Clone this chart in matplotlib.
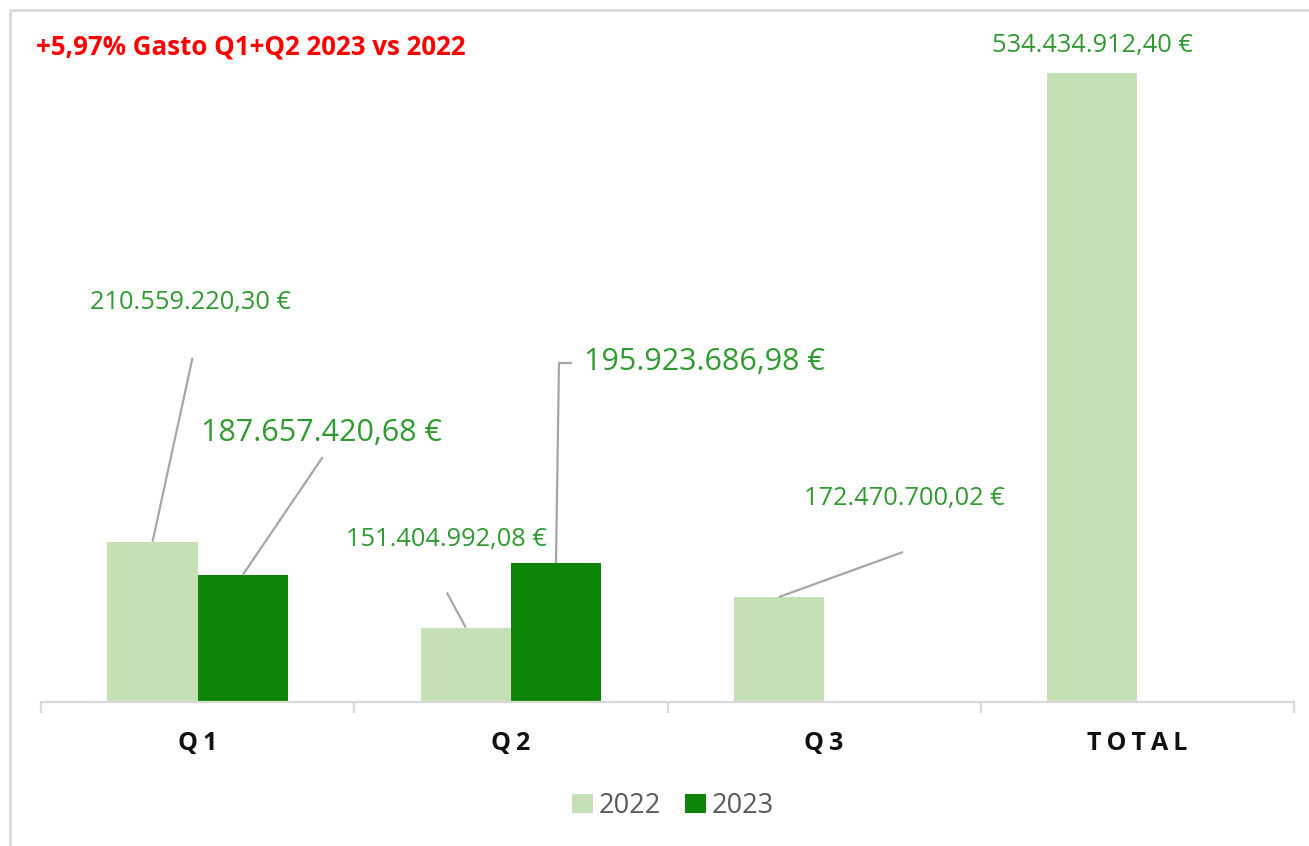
import matplotlib
matplotlib.use("Agg")
import matplotlib.pyplot as plt
from matplotlib.patches import Rectangle
import numpy as np

# ---------------- data ----------------
categories = ["Q1", "Q2", "Q3", "TOTAL"]
cat_labels = ["Q\u20091", "Q\u20092", "Q\u20093", "T\u2009O\u2009T\u2009A\u2009L"]
series_names = ["2022", "2023"]
values_2022 = [210559220.30, 151404992.08, 172470700.02, 534434912.40]
values_2023 = [187657420.68, 195923686.98, np.nan, np.nan]
labels_2022 = ["210.559.220,30 €", "151.404.992,08 €", "172.470.700,02 €", "534.434.912,40 €"]
labels_2023 = ["187.657.420,68 €", "195.923.686,98 €", None, None]
title_text = "+5,97% Gasto Q1+Q2 2023 vs 2022"

# ---------------- style ----------------
C22 = "#c5e0b4"
C23 = "#0f8508"
LBL = "#2f9a2f"
LEAD = "#a6a6a6"
AXC = "#d9d9d9"
FONT = ["Open Sans", "DejaVu Sans"]
plt.rcParams["font.family"] = FONT

W, H = 1309, 846
fig = plt.figure(figsize=(W / 100, H / 100), dpi=100)
ax = fig.add_axes([41 / W, (H - 702) / H, 1253 / W, 652 / H])

x = np.arange(len(categories))
bw = 0.288
b22 = ax.bar(x - bw / 2, values_2022, bw, color=C22, label=series_names[0], zorder=2)
b23 = ax.bar(x + bw / 2, values_2023, bw, color=C23, label=series_names[1], zorder=2)

ax.set_xlim(-0.5, 3.5)
ax.set_ylim(100e6, 550e6)

for s in ["top", "right", "left"]:
    ax.spines[s].set_visible(False)
ax.spines["bottom"].set_color(AXC)
ax.spines["bottom"].set_linewidth(1.6)
ax.set_yticks([])
ax.set_xticks(x)
ax.set_xticklabels(cat_labels, fontsize=18, fontweight="bold", color="#111111")
ax.tick_params(axis="x", which="major", length=0, pad=21)
ax.set_xticks(np.arange(-0.5, 4.0, 1.0), minor=True)
ax.tick_params(axis="x", which="minor", length=8, width=1.6, color=AXC, direction="out")

# label layout: text offset and leader points in pixels from bar top center
layout_22 = [
    dict(t=(38, 239), lead=[(0, 0), (40, 184)], fs=18.3),
    dict(t=(-19, 88), lead=[(0, 0), (-19, 35)], fs=18.3),
    dict(t=(125, 98), lead=[(0, 0), (124, 45)], fs=18.3),
    dict(t=(0, 27), lead=None, fs=18.3),
]
layout_23 = [
    dict(t=(79, 142), lead=[(0, 0), (80, 118)], fs=22),
    dict(t=(148, 201), lead=[(0, 0), (3, 200), (16, 200)], fs=22),
    None,
    None,
]

def place(xc, val, txt, lay):
    if txt is None or lay is None or np.isnan(val):
        return
    px, py = ax.transData.transform((xc, val))
    inv = ax.transData.inverted()
    if lay["lead"] is not None:
        pts = np.array([inv.transform((px + dx, py + dy)) for dx, dy in lay["lead"]])
        ax.plot(pts[:, 0], pts[:, 1], color=LEAD, lw=1.6, zorder=3, clip_on=False,
                solid_capstyle="butt")
    tx, ty = inv.transform((px + lay["t"][0], py + lay["t"][1]))
    ax.text(tx, ty, txt, ha="center", va="center", fontsize=lay["fs"], color=LBL,
            zorder=4, clip_on=False)

fig.canvas.draw()
for i in range(len(categories)):
    place(x[i] - bw / 2, values_2022[i], labels_2022[i], layout_22[i])
    place(x[i] + bw / 2, values_2023[i], labels_2023[i], layout_23[i])

fig.text(36 / W, 1 - 47 / H, title_text, color="#ff0000", fontsize=18.6,
         fontweight="bold", ha="left", va="center")

leg = fig.legend(handles=[b22, b23], labels=series_names, loc="center",
                 bbox_to_anchor=(673 / W, 1 - 806 / H), ncol=2, frameon=False,
                 fontsize=19.5, handlelength=0.75, handleheight=0.75,
                 handletextpad=0.22, columnspacing=0.9, borderaxespad=0)
for t in leg.get_texts():
    t.set_color("#595959")

# outer chart border (top/left visible)
fig.patches.append(Rectangle((10 / W, -0.05), 1.1, 1 - 10 / H + 0.05,
                             transform=fig.transFigure, fill=False,
                             edgecolor=AXC, lw=2, zorder=0))

fig.savefig("out.png", dpi=100)
